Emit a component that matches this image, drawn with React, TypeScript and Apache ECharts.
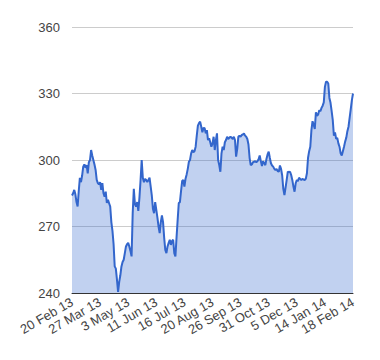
import React, { useEffect, useRef } from "react";
import * as echarts from "echarts";

const tickLabels = [
  "20 Feb 13", "27 Mar 13", "3 May 13", "11 Jun 13", "16 Jul 13", "20 Aug 13",
  "26 Sep 13", "31 Oct 13", "5 Dec 13", "14 Jan 14", "18 Feb 14",
];

const yTicks = [240, 270, 300, 330, 360];

const values = [
  284, 285, 286.5, 284.5, 281, 279, 286, 292, 290, 293,
  297, 298, 296.5, 297.7, 294, 299, 300, 304.5, 302, 300,
  298, 295.5, 291, 289.6, 289, 290, 286.5, 289.6, 285, 283.5,
  285.7, 280.6, 282, 280.5, 279, 272, 268, 262, 252, 251,
  246, 240.5, 245, 248, 252, 254, 255, 258, 261, 262,
  262.6, 261, 259, 256.5, 276, 287, 280, 279, 281, 277,
  283, 291, 300, 292, 290, 291.5, 291, 290, 291, 292,
  288, 284, 278, 276, 281, 277.5, 274, 270, 267, 272,
  275, 272, 265, 259.4, 258, 261, 262.6, 264, 261.7, 263.5,
  264, 258, 256.5, 265, 273, 280.6, 281, 286, 290.5, 291,
  288, 291.5, 293.5, 296, 299.2, 300, 303, 304.5, 303.5, 304,
  306, 311, 315.5, 316.6, 317.3, 315, 312.5, 314.5, 314.3, 312,
  313.5, 309, 309.8, 308, 306, 307.5, 310.5, 304.5, 309, 312,
  300, 297.7, 294.7, 303, 306, 304.5, 308, 309, 310.5, 309.5,
  310, 310.5, 310, 309.5, 310.5, 309, 301.5, 305, 310.5, 311,
  310.5, 311.3, 311.5, 312, 311, 310.5, 309.5, 307, 301, 297.7,
  298, 299, 299.2, 299.5, 299, 299.5, 300.3, 302, 299.5, 297.3,
  299.5, 298.5, 297.7, 300.5, 302.5, 303.8, 301, 298.5, 297.5, 297,
  296, 295.5, 296, 295, 294.7, 297.5, 296, 293, 287, 284.2,
  287.5, 291, 294.7, 294.5, 294.7, 293.2, 291, 288, 285.7, 289.5,
  291, 290.5, 292, 291.5, 291, 291.5, 291.2, 291, 291.5, 294,
  301, 304, 306, 313.5, 317.5, 316, 314, 321.5, 320, 320.5,
  322.5, 322, 323.5, 324.5, 326, 333, 335.3, 335.3, 334.5, 328,
  325.8, 322, 318, 311, 312.5, 309.5, 310, 307.5, 306, 303,
  302, 304, 306, 308.3, 310, 313, 315, 319, 323, 327,
  330,
];

const LABEL_STEP = 25;

export default function App() {
  const ref = useRef<HTMLDivElement>(null);

  useEffect(() => {
    if (!ref.current) return;
    const chart = echarts.init(ref.current, undefined, { renderer: "svg" });
    const font = "'Liberation Sans', Arial, sans-serif";
    chart.setOption({
      animation: false,
      grid: { left: 72, right: 27, top: 27, bottom: 67, containLabel: false },
      xAxis: {
        type: "value",
        min: 0,
        max: (tickLabels.length - 1) * LABEL_STEP,
        interval: LABEL_STEP,
        axisLine: { show: true, lineStyle: { color: "#333333", width: 1 } },
        axisTick: { show: false },
        splitLine: { show: false },
        axisLabel: {
          rotate: 30,
          margin: 8,
          color: "#444444",
          fontSize: 13,
          fontFamily: font,
          formatter: (v: number) => tickLabels[Math.round(v / LABEL_STEP)] ?? "",
        },
      },
      yAxis: {
        type: "value",
        min: yTicks[0],
        max: yTicks[yTicks.length - 1],
        interval: 30,
        axisLine: { show: false },
        axisTick: { show: false },
        splitLine: { show: true, lineStyle: { color: "#cccccc", width: 1 } },
        axisLabel: {
          margin: 12,
          color: "#444444",
          fontSize: 13,
          fontFamily: font,
        },
      },
      series: [
        {
          type: "line",
          data: values.map((v, i) => [i, v]),
          showSymbol: false,
          symbol: "none",
          lineStyle: { color: "#3366cc", width: 2 },
          areaStyle: { color: "#3366cc", opacity: 0.3 },
          z: 3,
        },
      ],
    });
    return () => chart.dispose();
  }, []);

  return (
    <div
      ref={ref}
      style={{ position: "fixed", left: 0, top: 0, width: 380, height: 360, background: "#ffffff" }}
    />
  );
}
